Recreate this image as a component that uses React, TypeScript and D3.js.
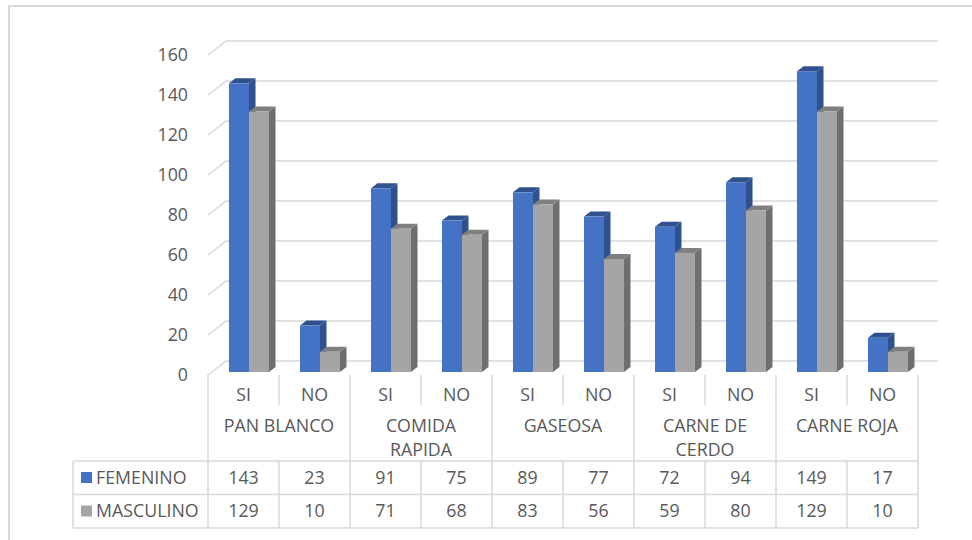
import React from "react";
import * as d3 from "d3";

// Survey answers by food group, split by sex
const groups = ["PAN BLANCO", "COMIDA RAPIDA", "GASEOSA", "CARNE DE CERDO", "CARNE ROJA"];
const groupLines = [["PAN BLANCO"], ["COMIDA", "RAPIDA"], ["GASEOSA"], ["CARNE DE", "CERDO"], ["CARNE ROJA"]];
const answers = ["SI", "NO"];
const femenino = [143, 23, 91, 75, 89, 77, 72, 94, 149, 17];
const masculino = [129, 10, 71, 68, 83, 56, 59, 80, 129, 10];
const yTicks = [0, 20, 40, 60, 80, 100, 120, 140, 160];

const seriesNames = ["FEMENINO", "MASCULINO"];
const seriesData = [femenino, masculino];
const faceColors = ["#4472c4", "#a5a5a5"];
const sideColors = ["#2f528f", "#6f6f6f"];
const topColors = ["#2f528f", "#7f7f7f"];

const W = 972;
const H = 540;
const FONT = "'Open Sans', 'Noto Sans', sans-serif";
const FS = 17.8;
const TEXT = "#595959";
const GRID = "#d9d9d9";

// plot geometry
const frontLeft = 208;
const frontRight = 918;
const depthX = 18;
const depthY = -14;
const barDX = 6.5;
const barDY = -5;
const barW = 20;

export default function App() {
  const cols = groups.flatMap((g) => answers.map((a) => `${g}|${a}`));
  const x = d3.scaleBand<string>().domain(cols).range([frontLeft, frontRight]);
  const yAxis = d3.scaleLinear().domain([0, 160]).range([375, 55]);
  const yBar = d3.scaleLinear().domain([0, 160]).range([372, 372 - 323]);
  const step = x.step();

  const groupX = (i: number) => frontLeft + i * step * 2;

  const tableTop = 461;
  const rowH = 33.5;

  return (
    <svg width={W} height={H} style={{ position: "absolute", left: 0, top: 0, background: "#fff" }}>
      {/* chart frame */}
      <path d={`M9,${H} V6 H${W}`} fill="none" stroke={GRID} strokeWidth={2} />

      {/* back wall gridlines with floor-side slants */}
      {yTicks.map((t) => {
        const yf = yAxis(t);
        const yb = yf + depthY;
        return (
          <g key={t}>
            <path
              d={`M${frontLeft},${yf} L${frontLeft + depthX},${yb} H${frontRight + depthX + 2}`}
              fill="none"
              stroke={GRID}
              strokeWidth={1.5}
            />
            <text
              x={188}
              y={yf}
              dy="0.35em"
              textAnchor="end"
              fontFamily={FONT}
              fontSize={FS}
              fill={TEXT}
            >
              {t}
            </text>
          </g>
        );
      })}

      {/* 3D bars */}
      {cols.map((c, ci) => {
        const left = (x(c) as number) + 21;
        return seriesData.map((s, si) => {
          const v = s[ci];
          const x0 = left + si * barW;
          const x1 = x0 + barW;
          const yTop = yBar(v);
          const yBase = yBar(0);
          return (
            <g key={`${c}-${si}`}>
              <polygon
                points={`${x1},${yTop} ${x1 + barDX},${yTop + barDY} ${x1 + barDX},${yBase + barDY} ${x1},${yBase}`}
                fill={sideColors[si]}
              />
              <polygon
                points={`${x0},${yTop} ${x0 + barDX},${yTop + barDY} ${x1 + barDX},${yTop + barDY} ${x1},${yTop}`}
                fill={topColors[si]}
              />
              <rect x={x0} y={yTop} width={barW} height={yBase - yTop} fill={faceColors[si]} />
            </g>
          );
        });
      })}

      {/* category header: answers and groups */}
      {cols.map((c, ci) => (
        <text
          key={`ans-${c}`}
          x={(x(c) as number) + step / 2}
          y={395}
          dy="0.35em"
          textAnchor="middle"
          fontFamily={FONT}
          fontSize={FS}
          fill={TEXT}
        >
          {answers[ci % 2]}
        </text>
      ))}
      {groupLines.map((lines, gi) =>
        lines.map((ln, li) => (
          <text
            key={`grp-${gi}-${li}`}
            x={groupX(gi) + step}
            y={426 + li * 24}
            dy="0.35em"
            textAnchor="middle"
            fontFamily={FONT}
            fontSize={FS}
            fill={TEXT}
          >
            {ln}
          </text>
        ))
      )}

      {/* separators between answers */}
      {groups.map((g, gi) => (
        <line
          key={`sub-${g}`}
          x1={groupX(gi) + step}
          x2={groupX(gi) + step}
          y1={375}
          y2={405}
          stroke={GRID}
          strokeWidth={1.5}
        />
      ))}
      {/* separators between groups */}
      {d3.range(groups.length + 1).map((i) => (
        <line
          key={`gsep-${i}`}
          x1={groupX(i)}
          x2={groupX(i)}
          y1={375}
          y2={tableTop + rowH * 2}
          stroke={GRID}
          strokeWidth={1.5}
        />
      ))}

      {/* data table */}
      {[0, 1, 2].map((r) => (
        <line
          key={`row-${r}`}
          x1={73}
          x2={frontRight}
          y1={tableTop + r * rowH}
          y2={tableTop + r * rowH}
          stroke={GRID}
          strokeWidth={1.5}
        />
      ))}
      <line x1={73} x2={73} y1={tableTop} y2={tableTop + rowH * 2} stroke={GRID} strokeWidth={1.5} />
      {cols.map((c, ci) =>
        ci % 2 === 1 ? (
          <line
            key={`tcol-${c}`}
            x1={(x(c) as number)}
            x2={(x(c) as number)}
            y1={tableTop}
            y2={tableTop + rowH * 2}
            stroke={GRID}
            strokeWidth={1.5}
          />
        ) : null
      )}
      {seriesData.map((s, si) => (
        <g key={`trow-${si}`}>
          <rect x={81} y={tableTop + si * rowH + 11} width={11} height={11} fill={faceColors[si]} />
          <text
            x={96}
            y={tableTop + si * rowH + rowH / 2}
            dy="0.35em"
            fontFamily={FONT}
            fontSize={FS}
            fill={TEXT}
          >
            {seriesNames[si]}
          </text>
          {s.map((v, ci) => (
            <text
              key={`v-${si}-${ci}`}
              x={(x(cols[ci]) as number) + step / 2}
              y={tableTop + si * rowH + rowH / 2}
              dy="0.35em"
              textAnchor="middle"
              fontFamily={FONT}
              fontSize={FS}
              fill={TEXT}
            >
              {v}
            </text>
          ))}
        </g>
      ))}
    </svg>
  );
}
